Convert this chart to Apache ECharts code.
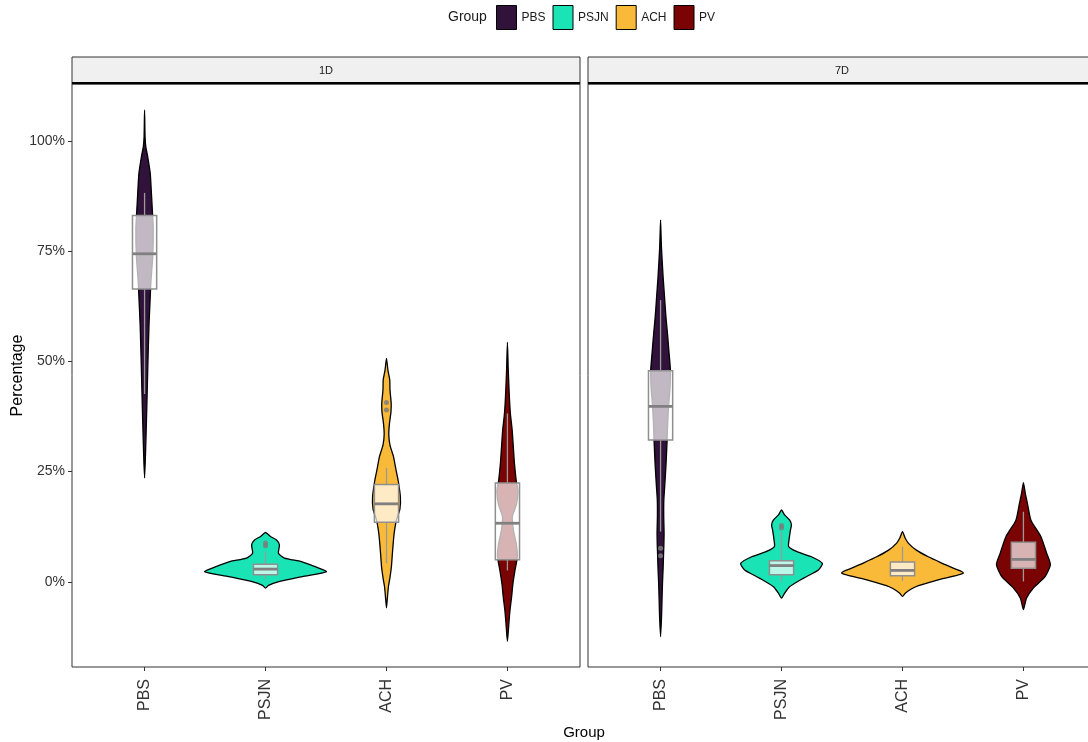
<!DOCTYPE html>
<html>
<head>
<meta charset="utf-8">
<script src="https://cdn.jsdelivr.net/npm/echarts@6/dist/echarts.min.js"></script>
<style>html,body{margin:0;padding:0;background:#fff;}#c{width:1088px;height:742px;}</style>
</head>
<body>
<div id="c"></div>
<script>
// ---------- data ----------
const groups = ['PBS', 'PSJN', 'ACH', 'PV'];
const panels = ['1D', '7D'];
const groupColors = ['#30123B', '#1AE4B6', '#FABA39', '#7A0403'];
const yTicks = [0, 25, 50, 75, 100];

// violin outlines: [value %, half width in category units]
const violin1D_PBS = [[107,0],[101,0.004],[98.7,0.01],[96.4,0.026],[92.6,0.047],[88.9,0.055],[84.4,0.064],[80,0.072],[74,0.068],[67.8,0.052],[64.7,0.047],[58.6,0.037],[51.1,0.029],[43.5,0.022],[36,0.015],[28.4,0.007],[23.6,0]];
const violin1D_PSJN = [[11.2,0],[10.3,0.041],[9.5,0.091],[8.4,0.115],[6.5,0.107],[5.4,0.157],[4.6,0.297],[3.5,0.404],[2.3,0.503],[1.2,0.305],[0,0.103],[-0.8,0.025],[-1.4,0]];
const violin1D_ACH = [[50.7,0],[48,0.012],[45.8,0.027],[43.5,0.029],[40.5,0.039],[38.5,0.037],[36,0.025],[33.5,0.019],[31,0.029],[28.4,0.058],[25.5,0.078],[23.1,0.096],[19.3,0.115],[16.5,0.111],[14,0.082],[11.5,0.066],[9.5,0.058],[6.5,0.049],[3.5,0.041],[1,0.029],[-1.1,0.016],[-3.5,0.008],[-5.9,0]];
const violin1D_PV = [[54.3,0],[48,0.007],[42,0.016],[38,0.025],[34.5,0.039],[30.5,0.049],[26.9,0.058],[23.1,0.072],[20.5,0.087],[17.5,0.074],[14.8,0.041],[11.8,0.049],[8.5,0.074],[5.7,0.082],[2.7,0.063],[-0.5,0.045],[-3.3,0.035],[-6.5,0.021],[-9.4,0.012],[-13.5,0]];
const violin7D_PBS = [[82.1,0],[76,0.007],[69.2,0.021],[64.5,0.033],[60.2,0.044],[56,0.058],[52.6,0.068],[48.1,0.081],[44,0.078],[39.8,0.066],[36,0.059],[32.2,0.054],[29,0.049],[26.1,0.044],[22,0.035],[18.6,0.027],[15,0.026],[11,0.029],[8,0.027],[6.6,0.025],[3,0.021],[-0.2,0.016],[-4,0.012],[-7.9,0.008],[-12.4,0]];
const violin7D_PSJN = [[16.3,0],[15.2,0.025],[14,0.068],[12.9,0.082],[11.8,0.074],[9.5,0.062],[8,0.059],[6.9,0.124],[5.7,0.247],[4.2,0.338],[2.7,0.305],[0.8,0.179],[-1.1,0.066],[-2.6,0.025],[-3.7,0]];
const violin7D_ACH = [[11.4,0],[10,0.021],[8.8,0.048],[7.2,0.115],[5.7,0.213],[3.9,0.354],[2,0.503],[0.5,0.303],[-1.1,0.11],[-2.5,0.025],[-3.3,0]];
const violin7D_PV = [[22.5,0],[20,0.016],[17.8,0.033],[14,0.062],[10.3,0.144],[6.5,0.192],[3.9,0.223],[1.2,0.179],[-1.4,0.082],[-3.7,0.025],[-6.3,0]];

// box stats: [group index, lower whisker, Q1, median, Q3, upper whisker]
const box1D = [[0,42.6,66.4,74.4,83.1,88.2],[1,0.7,1.6,2.9,4.0,6.9],[2,4.2,13.5,17.7,22.1,25.8],[3,2.6,5.0,13.3,22.4,38.2]];
const box7D = [[0,11.4,32.2,39.8,47.9,63.9],[1,0.1,1.6,3.7,4.8,11.4],[2,0.2,1.4,2.6,4.5,8.0],[3,0.1,3.1,5.1,9.0,15.9]];
// outliers: [group index, value %]
const outliers1D = [[1,8.2],[1,8.8],[2,39.0],[2,40.7]];
const outliers7D = [[0,5.9],[0,7.6],[1,12.2],[1,12.8]];

// ---------- chart ----------
const violins = [
  [violin1D_PBS, violin1D_PSJN, violin1D_ACH, violin1D_PV],
  [violin7D_PBS, violin7D_PSJN, violin7D_ACH, violin7D_PV]
];
const boxes = [box1D, box7D];
const outliers = [outliers1D, outliers7D];

const FONT = '"Liberation Sans", Arial, sans-serif';
const PANEL_LEFT = [72, 588];
const PANEL_W = 508, PANEL_TOP = 84, PANEL_H = 583;

const chart = echarts.init(document.getElementById('c'), null, {renderer: 'canvas'});

const grids = panels.map((p, i) => ({
  left: PANEL_LEFT[i], top: PANEL_TOP, width: PANEL_W, height: PANEL_H,
  outerBoundsMode: 'none', containLabel: false,
  show: true, borderColor: '#333', borderWidth: 1, backgroundColor: 'transparent'
}));

const xAxes = panels.map((p, i) => ({
  type: 'value', gridIndex: i, min: -0.6, max: 3.6, position: 'bottom',
  axisLine: {show: false, onZero: false},
  splitLine: {show: false},
  axisTick: {show: true, customValues: [0,1,2,3], length: 4, lineStyle: {color: '#333', width: 1}},
  axisLabel: {show: true, customValues: [0,1,2,3], formatter: v => groups[Math.round(v)],
    rotate: 90, fontSize: 16, color: '#333', margin: 12, fontFamily: FONT}
}));

const yAxes = panels.map((p, i) => ({
  type: 'value', gridIndex: i, min: -19.3, max: 112.9, position: 'left',
  axisLine: {show: false, onZero: false},
  splitLine: {show: false},
  axisTick: {show: i === 0, customValues: yTicks, length: 4, lineStyle: {color: '#333', width: 1}},
  axisLabel: {show: i === 0, customValues: yTicks, formatter: v => v + '%',
    fontSize: 14, color: '#333', margin: 7, fontFamily: FONT},
  name: i === 0 ? 'Percentage' : '',
  nameLocation: 'middle', nameRotate: 90, nameGap: 45,
  nameTextStyle: {fontSize: 16, color: '#000', fontFamily: FONT}
}));

const series = [];
panels.forEach((p, pi) => {
  groups.forEach((g, gi) => {
    const prof = violins[pi][gi];
    series.push({
      type: 'custom', name: g, xAxisIndex: pi, yAxisIndex: pi, z: 2,
      itemStyle: {color: groupColors[gi]},
      data: [[gi, 0]],
      silent: true,
      renderItem: function (params, api) {
        const c = api.value(0);
        const right = prof.map(d => api.coord([c + d[1], d[0]]));
        const left = prof.slice(1, -1).reverse().map(d => api.coord([c - d[1], d[0]]));
        return {
          type: 'polygon',
          shape: {points: right.concat(left), smooth: 0.2},
          style: {fill: groupColors[gi], stroke: '#000', lineWidth: 1.3}
        };
      }
    });
  });
  series.push({
    type: 'custom', name: 'box' + pi, xAxisIndex: pi, yAxisIndex: pi, z: 3, silent: true,
    data: boxes[pi],
    renderItem: function (params, api) {
      const c = api.value(0);
      const lo = api.value(1), q1 = api.value(2), md = api.value(3), q3 = api.value(4), hi = api.value(5);
      const pHi = api.coord([c, hi]), pQ3 = api.coord([c, q3]), pQ1 = api.coord([c, q1]), pLo = api.coord([c, lo]);
      const l = api.coord([c - 0.1, md]), r = api.coord([c + 0.1, md]);
      return {
        type: 'group',
        children: [
          {type: 'line', shape: {x1: pHi[0], y1: pHi[1], x2: pQ3[0], y2: pQ3[1]}, style: {stroke: '#9a9a9a', lineWidth: 1.3}},
          {type: 'line', shape: {x1: pLo[0], y1: pLo[1], x2: pQ1[0], y2: pQ1[1]}, style: {stroke: '#9a9a9a', lineWidth: 1.3}},
          {type: 'rect', shape: {x: l[0], y: pQ3[1], width: r[0] - l[0], height: pQ1[1] - pQ3[1]},
            style: {fill: 'rgba(255,255,255,0.7)', stroke: '#8f8f8f', lineWidth: 1.5}},
          {type: 'line', shape: {x1: l[0], y1: l[1], x2: r[0], y2: r[1]}, style: {stroke: '#808080', lineWidth: 2.8}}
        ]
      };
    }
  });
  series.push({
    type: 'scatter', name: 'out' + pi, xAxisIndex: pi, yAxisIndex: pi, z: 4, silent: true,
    symbol: 'circle', symbolSize: 5,
    itemStyle: {color: '#7d7d7d', opacity: 0.85},
    data: outliers[pi]
  });
});

const graphics = [];
panels.forEach((p, i) => {
  const x = PANEL_LEFT[i];
  graphics.push({type: 'rect', silent: true, z: 10, shape: {x: x, y: 57, width: PANEL_W, height: 27},
    style: {fill: '#f0f0f0', stroke: '#333', lineWidth: 1}});
  graphics.push({type: 'line', silent: true, z: 11, shape: {x1: x, y1: 83, x2: x + PANEL_W, y2: 83},
    style: {stroke: '#000', lineWidth: 2}});
  graphics.push({type: 'text', silent: true, z: 12, x: x + PANEL_W / 2, y: 71,
    style: {text: p, fill: '#1a1a1a', font: '11px ' + FONT, align: 'center', verticalAlign: 'middle'}});
});
graphics.push({type: 'text', silent: true, x: 584, y: 733,
  style: {text: 'Group', fill: '#000', font: '15px ' + FONT, align: 'center', verticalAlign: 'middle'}});

chart.setOption({
  animation: false,
  backgroundColor: '#fff',
  title: {text: 'Group', left: 448, top: 10, padding: 0,
    textStyle: {fontSize: 14, fontWeight: 'normal', color: '#1a1a1a', fontFamily: FONT}},
  legend: {
    left: 496, top: 5, padding: 0, itemWidth: 20, itemHeight: 24, itemGap: 7,
    icon: 'rect', selectedMode: false,
    textStyle: {fontSize: 12, color: '#1a1a1a', fontFamily: FONT},
    data: groups.map((g, i) => ({name: g, itemStyle: {color: groupColors[i], borderColor: '#000', borderWidth: 1}}))
  },
  grid: grids,
  xAxis: xAxes,
  yAxis: yAxes,
  series: series,
  graphic: graphics
});
</script>
</body>
</html>
